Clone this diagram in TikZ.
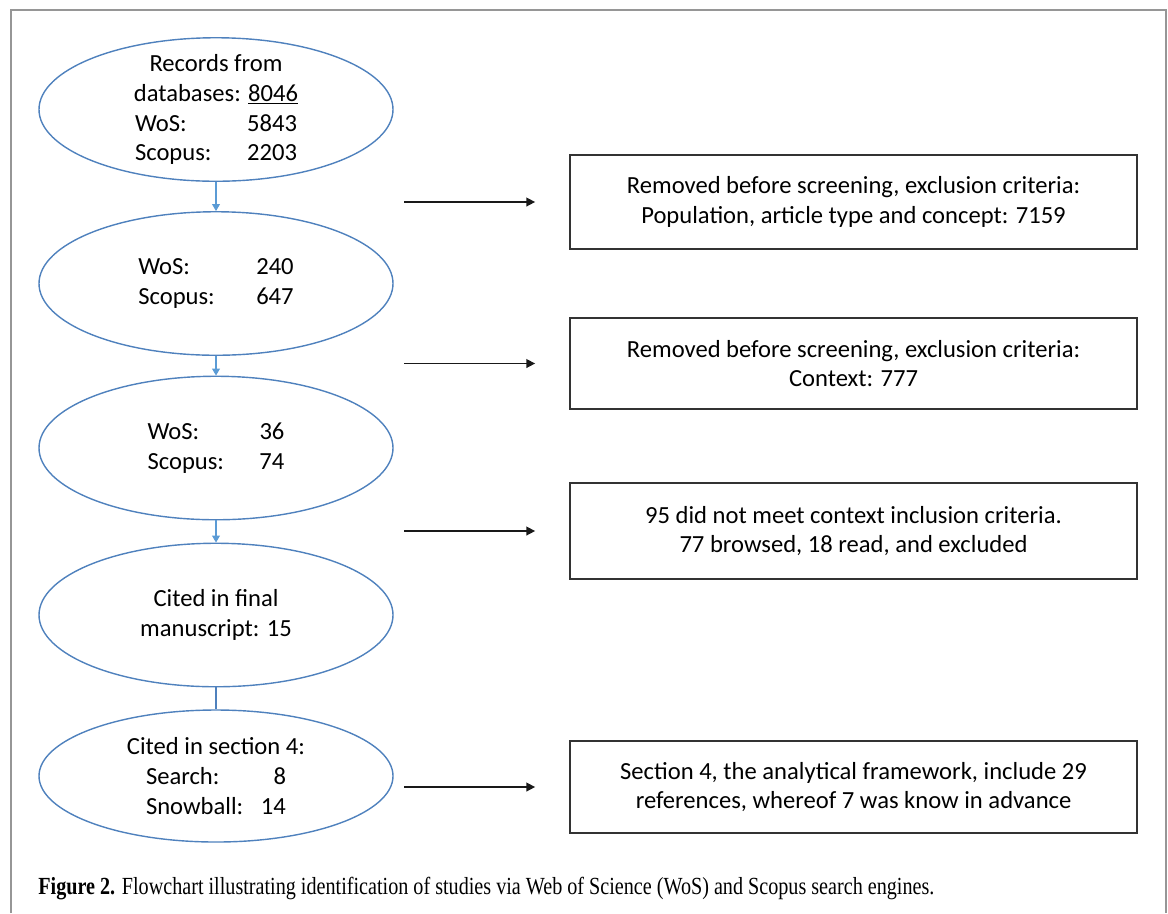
\documentclass[tikz,border=0pt]{standalone}
\usepackage{fontspec}
\setmainfont{Carlito}
\newfontfamily\capfont{Liberation Serif}
\usetikzlibrary{shapes,arrows.meta,positioning}

\definecolor{ellblue}{RGB}{79,129,189}
\definecolor{linkblue}{RGB}{91,155,213}
\definecolor{framegray}{RGB}{150,150,150}

\tikzset{
  stage/.style={draw=ellblue, ellipse, line width=0.8pt, minimum width=7.08cm, minimum height=2.87cm, inner sep=0pt},
  stagetext/.style={align=center, inner sep=0pt, font=\fontsize{14}{17}\selectfont},
  removed/.style={draw=black!80, line width=1pt, minimum width=11.34cm, minimum height=1.88cm, align=center, font=\fontsize{14}{17}\selectfont},
  flow/.style={draw=linkblue, line width=0.6pt, -{Triangle[length=4pt,width=4.5pt]}},
  exclarrow/.style={draw=black!90, line width=0.85pt, -{Triangle[length=5pt,width=5pt]}, shorten >=0.68cm},
}

\begin{document}
\begin{tikzpicture}
\useasboundingbox (0,0) rectangle (23.36,-18.26);
% frame, open at the bottom
\draw[framegray, line width=1.1pt] (0.22,-18.26) -- (0.22,-0.2) -- (23.32,-0.2) -- (23.32,-18.26);

% stages of the search
\node[stage] (s1) at (4.32,-2.19) {};
\node[stage] (s2) at (4.32,-5.67) {};
\node[stage] (s3) at (4.32,-8.96) {};
\node[stage] (s4) at (4.32,-12.30) {};
\node[stage, minimum height=2.64cm] (s5) at (4.32,-15.52) {};

\node[stagetext] (t1) at (s1) {Records from\\ databases: \underline{8046}\\ \makebox[3.24cm]{WoS:\hfill 5843}\\ \makebox[3.24cm]{Scopus:\hfill 2203}};
\node[stagetext, align=left] (t2) at (s2) {\makebox[2.36cm][l]{WoS:}240\\ \makebox[2.36cm][l]{Scopus:}647};
\node[stagetext, align=left] (t3) at (s3) {\makebox[2.24cm][l]{WoS:}36\\ \makebox[2.24cm][l]{Scopus:}74};
\node[stagetext] (t4) at (s4) {Cited in final\\ manuscript: 15};
\node[stagetext] (t5) at (s5) {Cited in section 4:\\ \makebox[2.8cm]{Search:\hfill 8}\\ \makebox[2.8cm]{Snowball:\hfill 14}};

\draw[flow] (s1) -- (s2);
\draw[flow] (s2) -- (s3);
\draw[flow] (s3) -- (s4);
\draw[ellblue, line width=0.6pt] (s4) -- (s5);

% removed records
\node[removed] (r1) at (17.07,-4.04) {Removed before screening, exclusion criteria:\\ Population, article type and concept: 7159};
\node[removed, minimum height=1.82cm] (r2) at (17.07,-7.27) {Removed before screening, exclusion criteria:\\ Context: 777};
\node[removed, minimum height=1.92cm] (r3) at (17.07,-10.62) {95 did not meet context inclusion criteria.\\ 77 browsed, 18 read, and excluded};
\node[removed, minimum height=1.84cm] (r4) at (17.07,-15.74) {Section 4, the analytical framework, include 29\\ references, whereof 7 was know in advance};

\foreach \r in {r1,r2,r3,r4}{
  \coordinate[left=3.3cm of \r.west] (from\r);
  \draw[exclarrow] (from\r) -- (\r.west);
}

\node[anchor=base west, inner sep=0pt, font=\capfont\fontsize{14}{16}\selectfont] (cap) at (0.76,-17.88)
  {\resizebox{17.92cm}{\height}{\textbf{Figure 2.} Flowchart illustrating identification of studies via Web of Science (WoS) and Scopus search engines.}};
\end{tikzpicture}
\end{document}
